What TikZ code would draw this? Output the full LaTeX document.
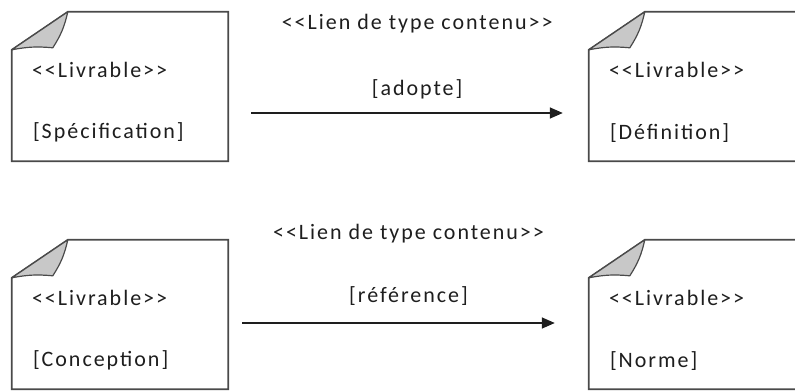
\documentclass[tikz,border=0pt]{standalone}
\usepackage{fontspec}
\setmainfont{Carlito}[Ligatures=TeXOff, LetterSpace=9]
\usetikzlibrary{positioning, arrows.meta}
\definecolor{trait}{HTML}{4A4A4A}
\definecolor{pli}{HTML}{C8C8C8}
\definecolor{encre}{HTML}{1E1E1E}

\begin{document}
\begin{tikzpicture}[
  x=1pt, y=-1pt,
  font=\fontsize{22}{26}\selectfont,
  livrable/.style={minimum width=216pt, minimum height=149pt, inner sep=0pt},
  contour/.style={draw=trait, line width=1.7pt, fill=white},
  coin/.style={draw=trait, line width=1.2pt, fill=pli, line join=round},
  texte/.style={anchor=west, inner sep=0pt, text=encre},
  etiq/.style={anchor=base, inner sep=0pt, text=encre},
  fl/.style={-{Triangle[length=13pt, width=11pt]}, line width=1.5pt, encre},
]
\clip (0,0) rectangle (795,391);
% les quatre livrables
\node[livrable] (spec) at (120,86.5) {};
\node[livrable] (def) at (697,86.5) {};
\node[livrable] (conc) at (120,314.5) {};
\node[livrable] (norme) at (697,314.5) {};
% contours avec coin plie
\draw[contour] (spec.south west) -- ([yshift=-38pt]spec.north west) -- ([xshift=56pt]spec.north west) -- (spec.north east) -- (spec.south east) -- cycle;
\draw[coin] ([yshift=-38pt]spec.north west) -- ([xshift=56pt]spec.north west) to[bend left=10] ([xshift=41pt,yshift=-36pt]spec.north west) to[bend right=8] cycle;
\draw[contour] (def.south west) -- ([yshift=-38pt]def.north west) -- ([xshift=56pt]def.north west) -- (def.north east) -- (def.south east) -- cycle;
\draw[coin] ([yshift=-38pt]def.north west) -- ([xshift=56pt]def.north west) to[bend left=10] ([xshift=41pt,yshift=-36pt]def.north west) to[bend right=8] cycle;
\draw[contour] (conc.south west) -- ([yshift=-38pt]conc.north west) -- ([xshift=56pt]conc.north west) -- (conc.north east) -- (conc.south east) -- cycle;
\draw[coin] ([yshift=-38pt]conc.north west) -- ([xshift=56pt]conc.north west) to[bend left=10] ([xshift=41pt,yshift=-36pt]conc.north west) to[bend right=8] cycle;
\draw[contour] (norme.south west) -- ([yshift=-38pt]norme.north west) -- ([xshift=56pt]norme.north west) -- (norme.north east) -- (norme.south east) -- cycle;
\draw[coin] ([yshift=-38pt]norme.north west) -- ([xshift=56pt]norme.north west) to[bend left=10] ([xshift=41pt,yshift=-36pt]norme.north west) to[bend right=8] cycle;
% textes
\node[texte] (spec-s) at ([xshift=20pt,yshift=-58pt]spec.north west) {<<Livrable>>};
\node[texte] (spec-n) at ([xshift=21pt,yshift=-121pt]spec.north west) {[Spécification]};
\node[texte] (def-s) at ([xshift=20pt,yshift=-58pt]def.north west) {<<Livrable>>};
\node[texte] (def-n) at ([xshift=21pt,yshift=-121pt]def.north west) {[Définition]};
\node[texte] (conc-s) at ([xshift=20pt,yshift=-58pt]conc.north west) {<<Livrable>>};
\node[texte] (conc-n) at ([xshift=21pt,yshift=-121pt]conc.north west) {[Conception]};
\node[texte] (norme-s) at ([xshift=20pt,yshift=-58pt]norme.north west) {<<Livrable>>};
\node[texte] (norme-n) at ([xshift=21pt,yshift=-121pt]norme.north west) {[Norme]};
% liens
\draw[fl, shorten <=23pt, shorten >=26pt] ([yshift=-26.5pt]spec.east) -- ([yshift=-26.5pt]def.west)
  node[etiq, pos=0.524, yshift=18pt] (adopte) {[adopte]};
\node[etiq] (lien-a) at ([yshift=66pt]adopte.base) {<<Lien de type contenu>>};
\draw[fl, shorten <=14pt, shorten >=34pt] ([yshift=-8.5pt]conc.east) -- ([yshift=-8.5pt]norme.west)
  node[etiq, midway, yshift=21pt] (ref) {[référence]};
\node[etiq] (lien-b) at ([yshift=63pt]ref.base) {<<Lien de type contenu>>};
\end{tikzpicture}
\end{document}
